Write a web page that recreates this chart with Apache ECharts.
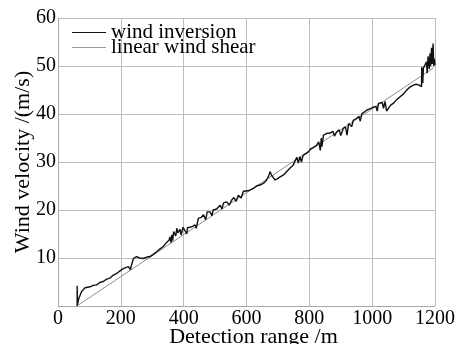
<!DOCTYPE html>
<html>
<head>
<meta charset="utf-8">
<script src="https://cdn.jsdelivr.net/npm/echarts@6/dist/echarts.min.js"></script>
<style>html,body{margin:0;padding:0;background:#fff}#c{width:459px;height:344px}</style>
</head>
<body>
<div id="c"></div>
<script>
var xTicks = [0, 200, 400, 600, 800, 1000, 1200];
var yTicks = [0, 10, 20, 30, 40, 50, 60];
var seriesNames = ['wind inversion', 'linear wind shear'];
var invX = [61,61,62,66,75,86,102,112,123,133,144,150,155,165,175,187,195,208,215,224,230,240,250,260,272,283,293,304,314,325,335,345,354,
356,360,362,365,368,372,375,378,382,388,392,398,404,410,412,420,428,436,440,447,455,463,470,475,484,490,494,505,516,522,527,537,545,553,560,567,574,583,590,595,605,611,622,632,643,655,664,670,675,680,685,691,700,707,718,728,738,749,755,760,765,770,775,780,790,797,805,812,823,830,835,838,840,845,850,858,866,875,880,887,895,900,908,915,920,925,929,935,940,951,958,962,967,975,982,990,1003,1012,1016,1020,1025,1032,1036,1041,1044,1046,1050,1058,1067,1078,1089,1100,1110,1120,1131,1140,1150,1157,1158,1161,1163,1168,1173,1175,1178,1182,1184,1186,1189,1191,1194,1196,1198,1200];
var invY = [0,4.2,0.3,1.5,3.0,3.8,4.0,4.3,4.4,4.9,5.1,4.8,5.6,5.8,6.4,6.8,7.2,7.8,8.0,8.2,7.6,9.9,10.3,10.0,9.9,10.2,10.3,10.8,11.3,11.9,12.4,13.2,13.75,
14.4,13.2,14.8,13.6,15.5,15.8,14.6,16.2,15.2,16.0,14.8,16.4,16.2,15.0,16.3,16.4,16.6,16.9,16.2,18.3,18.4,19.0,18.0,19.6,19.6,18.8,20.0,20.2,21.0,20.2,21.5,21.7,21.0,22.1,22.6,21.8,23.1,22.5,23.9,23.8,24.0,24.2,24.5,25.0,25.2,25.6,26.25,27.0,28.0,27.2,27.6,26.25,26.6,26.9,27.3,28.0,28.7,29.4,29.8,31.0,29.8,31.1,30.0,31.4,31.8,32.1,32.8,33.0,33.5,34.2,32.4,35.0,33.2,35.6,35.6,36.0,36.0,36.4,35.4,36.3,36.7,35.5,37.0,37.3,35.6,38.0,38.4,37.4,38.7,39.1,39.5,38.5,40.1,40.4,40.8,41.0,41.4,41.6,40.6,42.2,41.9,42.4,41.2,42.6,42.8,40.6,40.8,41.8,42.2,43.0,43.6,44.2,45.0,45.6,46.0,46.2,46.0,45.7,49.8,46.4,49.5,50.2,50.9,48.5,52.0,49.4,52.6,50.0,53.8,50.4,54.7,50.0,51.5,50.2];
var linX = [60, 1195];
var linY = [0, 49.6];

function pairs(xs, ys) { return xs.map(function (x, i) { return [x, ys[i]]; }); }

var chart = echarts.init(document.getElementById('c'));
var font = "'Liberation Serif', 'Times New Roman', serif";
var lineIcon = 'path://M0,0 L34,0 L34,1.2 L0,1.2 Z';
chart.setOption({
  animation: false,
  backgroundColor: '#fff',
  textStyle: { fontFamily: font, color: '#000' },
  grid: { left: 58, right: 24, top: 18, bottom: 38, containLabel: false, outerBoundsMode: 'none' },
  legend: {
    orient: 'vertical', left: 72, top: 22, padding: 0, itemGap: -6,
    itemWidth: 34, itemHeight: 14,
    textStyle: { fontFamily: font, fontSize: 21, color: '#000' },
    data: [
      { name: seriesNames[0], icon: lineIcon, itemStyle: { color: '#111' } },
      { name: seriesNames[1], icon: lineIcon, itemStyle: { color: '#9a9a9a' } }
    ]
  },
  xAxis: {
    type: 'value', min: xTicks[0], max: xTicks[xTicks.length - 1], interval: 200,
    name: 'Detection range /m', nameLocation: 'middle', nameGap: 20, nameMoveOverlap: false,
    nameTextStyle: { fontFamily: font, fontSize: 22, color: '#000', padding: [0, 0, 0, 14] },
    axisLine: { lineStyle: { color: '#a8a8a8', width: 1 } },
    axisTick: { show: false },
    axisLabel: { fontFamily: font, fontSize: 20, color: '#000', margin: 3, formatter: function (v) { return String(v); } },
    splitLine: { show: true, lineStyle: { color: '#bdbdbd', width: 1 } }
  },
  yAxis: {
    type: 'value', min: yTicks[0], max: yTicks[yTicks.length - 1], interval: 10,
    name: 'Wind velocity /(m/s)', nameLocation: 'middle', nameGap: 24, nameMoveOverlap: false,
    nameTextStyle: { fontFamily: font, fontSize: 22, color: '#000' },
    axisLine: { show: true, lineStyle: { color: '#a8a8a8', width: 1 } },
    axisTick: { show: false },
    axisLabel: { fontFamily: font, fontSize: 20, color: '#000', margin: 2, showMinLabel: false, formatter: function (v) { return String(v); } },
    splitLine: { show: true, lineStyle: { color: '#bdbdbd', width: 1 } }
  },
  series: [
    {
      name: seriesNames[0], type: 'line', symbol: 'none', z: 3,
      color: '#111',
      lineStyle: { color: '#111', width: 1.4 },
      data: pairs(invX, invY)
    },
    {
      name: seriesNames[1], type: 'line', symbol: 'none', z: 2,
      color: '#9a9a9a',
      lineStyle: { color: '#8c8c8c', width: 1 },
      data: pairs(linX, linY)
    }
  ]
});
</script>
</body>
</html>
